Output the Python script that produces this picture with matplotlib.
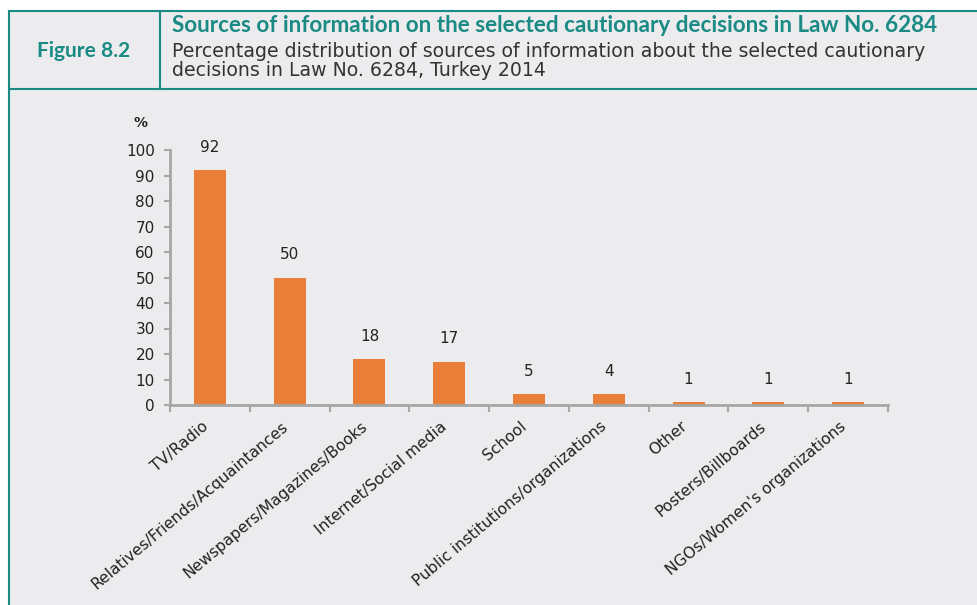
import matplotlib
matplotlib.use("Agg")
import matplotlib.pyplot as plt
import matplotlib.transforms as mtransforms
from matplotlib.patches import Rectangle
from matplotlib.lines import Line2D

categories = ["TV/Radio", "Relatives/Friends/Acquaintances", "Newspapers/Magazines/Books",
              "Internet/Social media", "School", "Public institutions/organizations",
              "Other", "Posters/Billboards", "NGOs/Women's organizations"]
values = [92, 50, 18, 17, 5, 4, 1, 1, 1]
bar_heights = [92, 50, 18, 17, 4.3, 4.2, 1, 1, 1]
yticks = [0, 10, 20, 30, 40, 50, 60, 70, 80, 90, 100]

title = "Sources of information on the selected cautionary decisions in Law No. 6284"
subtitle = "Percentage distribution of sources of information about the selected cautionary\ndecisions in Law No. 6284, Turkey 2014"
fig_label = "Figure 8.2"

W, H = 978, 605
BG = "#ECECEE"
TEAL = "#1A8A84"
ORANGE = "#E97E38"
AXIS = "#A6A6A6"
plt.rcParams['font.family'] = ['DejaVu Sans']

fig = plt.figure(figsize=(W/100, H/100), dpi=100)
fig.patch.set_facecolor("white")

def fx(x):
    return x / W

def fy(y):
    return 1 - y / H

# background panel
bg = Rectangle((fx(8), 0), 1 - fx(8), fy(11), transform=fig.transFigure,
               facecolor=BG, edgecolor="none", zorder=-10)
fig.add_artist(bg)
# borders
for (x0, y0, x1, y1) in [(8.5, 11, 978, 11), (8.5, 89, 978, 89), (8.5, 11, 8.5, 605), (160, 11, 160, 89)]:
    fig.add_artist(Line2D([fx(x0), fx(x1)], [fy(y0), fy(y1)], transform=fig.transFigure,
                          color=TEAL, lw=1.5, zorder=-5))

fig.text(fx(84), fy(51), fig_label, color=TEAL, fontsize=15, fontweight="bold",
         family="Lato", ha="center", va="center")
fig.text(fx(172), fy(25), title, color=TEAL, fontsize=16.2, fontweight="bold",
         family="Lato", ha="left", va="center")
fig.text(fx(172), fy(61), subtitle, color="#333333", fontsize=13.6, ha="left", va="center",
         linespacing=1.05)

ax = fig.add_axes([fx(170), fy(405), fx(888) - fx(170), fy(150) - fy(405)])
ax.set_facecolor("none")
ax.set_zorder(5)
x = list(range(len(categories)))
ax.bar(x, bar_heights, width=0.4, color=ORANGE, zorder=2)
for xi, h, v in zip(x, bar_heights, values):
    ax.annotate(f"{v}", (xi, h), xytext=(0, 11), textcoords="offset points",
                ha="center", va="bottom", fontsize=11, color="#222222")

ax.set_xlim(-0.5, len(categories) - 0.5)
ax.set_ylim(0, 100)
ax.set_yticks(yticks)
ax.set_yticklabels([str(t) for t in yticks], fontsize=11, color="#222222")
ax.tick_params(axis="y", length=4, width=1.5, color=AXIS, pad=7)

ax.set_xticks([i - 0.5 for i in range(len(categories) + 1)])
ax.set_xticklabels([])
ax.tick_params(axis="x", length=5, width=1.5, color=AXIS)
ax.set_xticks(x, minor=True)
ax.set_xticklabels(categories, minor=True, rotation=40, ha="right", va="center",
                   rotation_mode="anchor", fontsize=11.2, color="#222222")
ax.tick_params(axis="x", which="minor", length=0, pad=14)
offset = mtransforms.ScaledTranslation(-4 / 100, 0, fig.dpi_scale_trans)
for lbl in ax.get_xticklabels(minor=True):
    lbl.set_transform(lbl.get_transform() + offset)

for s in ["top", "right"]:
    ax.spines[s].set_visible(False)
for s in ["left", "bottom"]:
    ax.spines[s].set_color(AXIS)
    ax.spines[s].set_linewidth(2)

fig.text(fx(141), fy(123), "%", fontsize=10, fontweight="bold", ha="center", va="center",
         color="#222222")

fig.savefig("out.png", dpi=100, facecolor=fig.get_facecolor())
